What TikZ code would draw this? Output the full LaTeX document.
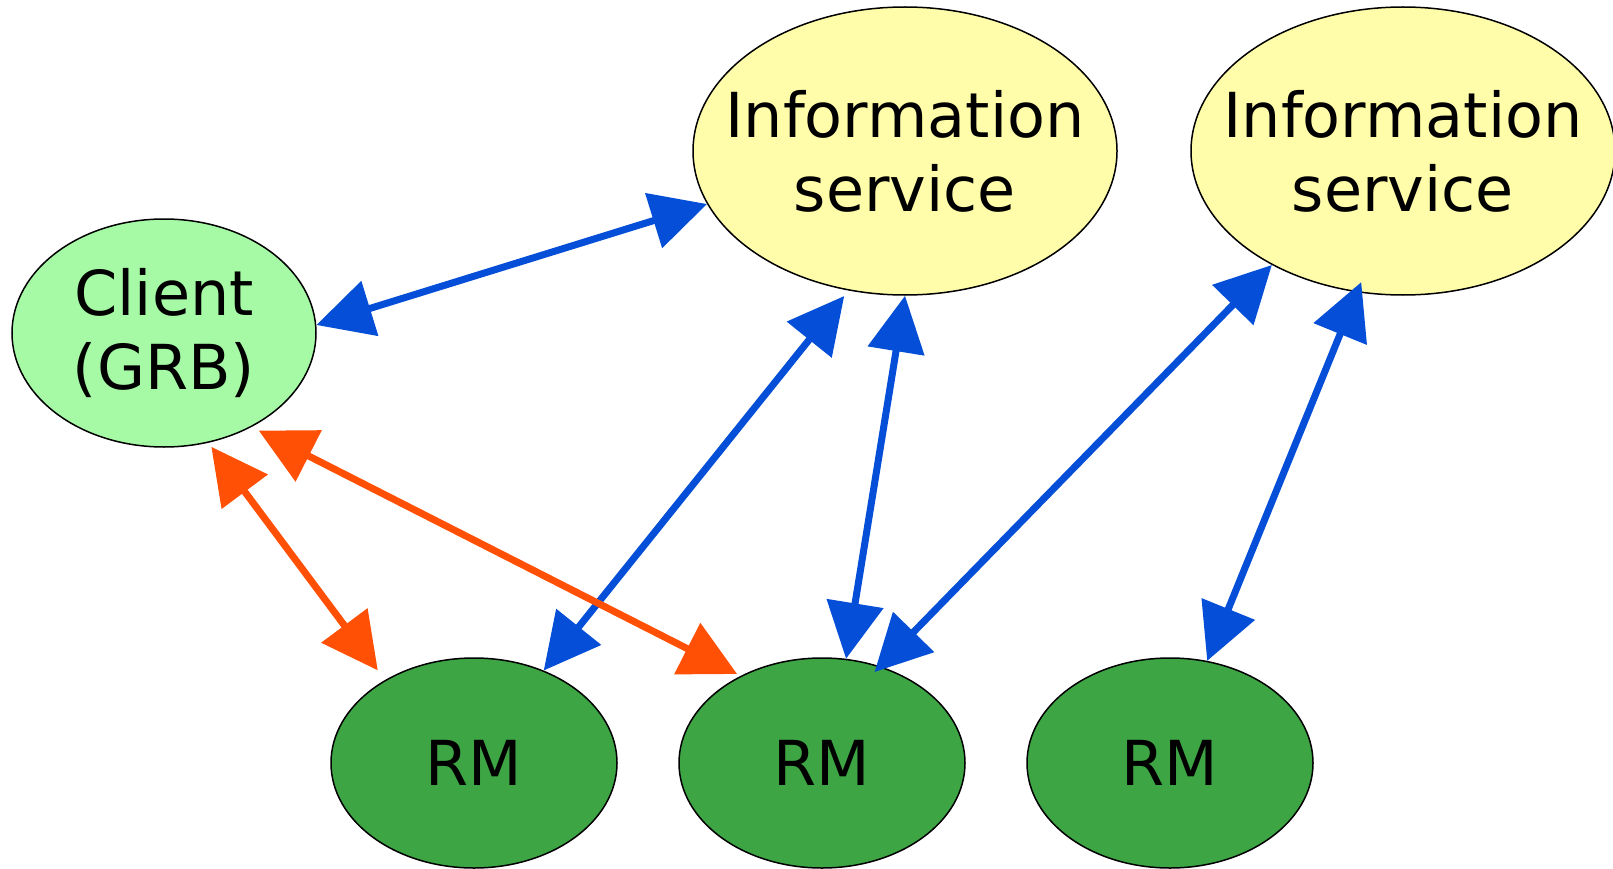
\documentclass[tikz,border=0pt]{standalone}
\usepackage{fontspec}
\setmainfont{DejaVu Sans}
\usetikzlibrary{shapes.geometric,arrows.meta}

\definecolor{clientgreen}{RGB}{166,250,166}
\definecolor{infoyellow}{RGB}{255,252,170}
\definecolor{rmgreen}{RGB}{61,165,68}
\definecolor{linkblue}{RGB}{5,78,215}
\definecolor{linkorange}{RGB}{255,80,5}

% zero-width line, so the text does not widen the ellipse
\newcommand{\zw}[1]{\makebox[0pt]{#1}}

\begin{document}
\begin{tikzpicture}[x=1pt,y=-1pt,
    every node/.style={font=\fontsize{62}{74}\selectfont},
    blob/.style={ellipse,draw=black,line width=1.5pt,inner sep=0pt,align=center},
    infobox/.style={blob,fill=infoyellow,minimum width=424pt,minimum height=288pt},
    rmbox/.style={blob,fill=rmgreen,minimum width=286pt,minimum height=210pt},
    link/.style={{Triangle[length=56pt,width=56pt]}-{Triangle[length=56pt,width=56pt]},line width=7pt}]
    \useasboundingbox (0,0) rectangle (1613,869);

    % Client and information services
    \node[blob,fill=clientgreen,minimum width=304pt,minimum height=228pt] (client) at (164,333) {\zw{Client}\\\zw{(GRB)}};
    \node[infobox] (info1) at (905,151) {\zw{Information}\\\zw{service}};
    \node[infobox] (info2) at (1403,151) {\zw{Information}\\\zw{service}};

    % Resource managers
    \node[rmbox] (rma) at (474,763) {RM};
    \node[rmbox] (rmb) at (822,763) {RM};
    \node[rmbox] (rmc) at (1170,763) {RM};

    % Queries to the information services
    \draw[link,linkblue] (client.3) -- (info1.-165);
    \draw[link,linkblue,shorten <=7pt] (info1.-112.5) -- (rma.53);
    \draw[link,linkblue] (info1.-90) -- (rmb.77);
    \draw[link,linkblue,shorten >=-8pt] (info2.-139) -- (rmb.59.5);
    \draw[link,linkblue,shorten <=-11pt] (info2.-108) -- (rmc.70);

    % Client talks to the RMs
    \draw[link,linkorange,shorten <=5pt,shorten >=12pt] (client.-68) -- (rma.137);
    \draw[link,linkorange,shorten <=8pt,shorten >=4pt] (client.-47) -- (rmb.133);
\end{tikzpicture}
\end{document}
